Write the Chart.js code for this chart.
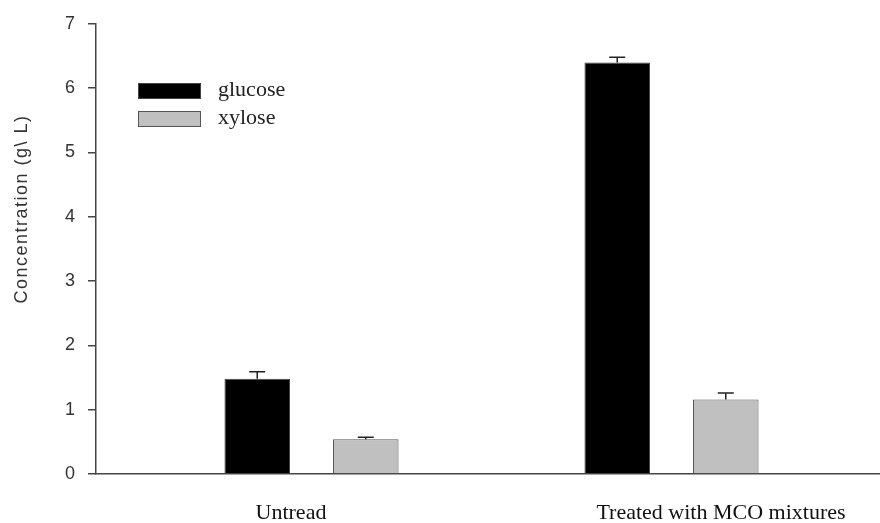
<!DOCTYPE html>
<html>
<head>
<meta charset="utf-8">
<script src="https://cdn.jsdelivr.net/npm/chart.js@4"></script>
<style>
  html, body { margin: 0; padding: 0; background: #fff; }
  #wrap { width: 880px; height: 523px; }
</style>
</head>
<body>
<div id="wrap"><canvas id="graficoAcucares"></canvas></div>
<script>
// sugar release, untreated vs treated
const categorias = ["Untread", "Treated with MCO mixtures"];
const glucose = [1.48, 6.40];
const glucoseErro = [0.11, 0.08];
const xylose = [0.54, 1.16];
const xyloseErro = [0.03, 0.10];
const yTicks = [0, 1, 2, 3, 4, 5, 6, 7];

const corEixo = "#444";
const corTexto = "#333";

// error bars (upper half only, as in the original plot)
const barrasErro = {
  id: "barrasErro",
  afterDatasetsDraw(chart) {
    const ctx = chart.ctx;
    const y = chart.scales.y;
    chart.data.datasets.forEach((ds, i) => {
      const meta = chart.getDatasetMeta(i);
      meta.data.forEach((bar, j) => {
        const topo = y.getPixelForValue(ds.data[j].y + ds.erro[j]);
        ctx.save();
        ctx.strokeStyle = "#222";
        ctx.lineWidth = 1.5;
        ctx.beginPath();
        ctx.moveTo(bar.x, bar.y);
        ctx.lineTo(bar.x, topo);
        ctx.moveTo(bar.x - 8, topo);
        ctx.lineTo(bar.x + 8, topo);
        ctx.stroke();
        ctx.restore();
      });
    });
  }
};

// legend box inside the plot, top left
const legendaInterna = {
  id: "legendaInterna",
  afterDraw(chart) {
    const ctx = chart.ctx;
    ctx.save();
    chart.data.datasets.forEach((ds, i) => {
      const yy = 83 + i * 28;
      ctx.fillStyle = ds.backgroundColor;
      ctx.fillRect(138, yy, 62, 15);
      ctx.strokeStyle = ds.borderColor;
      ctx.lineWidth = 1;
      ctx.strokeRect(138.5, yy + 0.5, 62, 15);
      ctx.fillStyle = "#222";
      ctx.font = "22px 'Liberation Serif'";
      ctx.textBaseline = "middle";
      ctx.fillText(ds.label, 218, yy + 7);
    });
    ctx.restore();
  }
};

// y axis title, drawn by hand so it sits where the original had it
const tituloY = {
  id: "tituloY",
  afterDraw(chart) {
    const ctx = chart.ctx;
    ctx.save();
    ctx.translate(22, 209);
    ctx.rotate(-Math.PI / 2);
    ctx.fillStyle = corTexto;
    ctx.font = "18px 'Liberation Sans'";
    ctx.letterSpacing = "1.5px";
    ctx.textAlign = "center";
    ctx.textBaseline = "middle";
    ctx.fillText("Concentration (g\\ L)", 0, 0);
    ctx.restore();
  }
};

const idGrafico = document.getElementById("graficoAcucares").getContext("2d");

const grafico = new Chart(idGrafico, {
  type: "bar",
  data: {
    datasets: [{
      label: "glucose",
      data: glucose.map((v, i) => ({ x: i + 1, y: v })),
      erro: glucoseErro,
      backgroundColor: "#000",
      borderColor: "#444",
      borderWidth: 1
    }, {
      label: "xylose",
      data: xylose.map((v, i) => ({ x: i + 1, y: v })),
      erro: xyloseErro,
      backgroundColor: "#c0c0c0",
      borderColor: "#555",
      borderWidth: 1
    }]
  },
  options: {
    responsive: true,
    maintainAspectRatio: false,
    animation: false,
    categoryPercentage: 0.603,
    barPercentage: 0.604,
    layout: { padding: { top: 20, right: 0, left: 0, bottom: 0 } },
    plugins: {
      legend: { display: false },
      tooltip: { enabled: false }
    },
    scales: {
      x: {
        type: "linear",
        bounds: "data",
        offset: false,
        min: 0.4014,
        max: 2.5792,
        grid: { display: false, drawTicks: false, offset: false },
        border: { display: true, color: corEixo, width: 1.5 },
        afterBuildTicks(scale) {
          scale.ticks = [{ value: 0.943 }, { value: 2.1375 }];
        },
        afterFit(scale) { scale.height = 49; },
        ticks: {
          autoSkip: false,
          maxRotation: 0,
          padding: 26,
          color: "#111",
          font: { family: "'Liberation Serif'", size: 22 },
          callback: (v, i) => categorias[i]
        }
      },
      y: {
        min: 0,
        max: 7,
        afterBuildTicks(scale) {
          scale.ticks = yTicks.map((v) => ({ value: v }));
        },
        afterFit(scale) { scale.width = 96; },
        grid: { display: true, drawOnChartArea: false, drawTicks: true, tickLength: 8, color: corEixo, lineWidth: 1.5 },
        border: { display: true, color: corEixo, width: 1.5 },
        ticks: {
          padding: 13,
          color: corTexto,
          font: { family: "'Liberation Sans'", size: 18 }
        }
      }
    }
  },
  plugins: [barrasErro, legendaInterna, tituloY]
});
</script>
</body>
</html>
